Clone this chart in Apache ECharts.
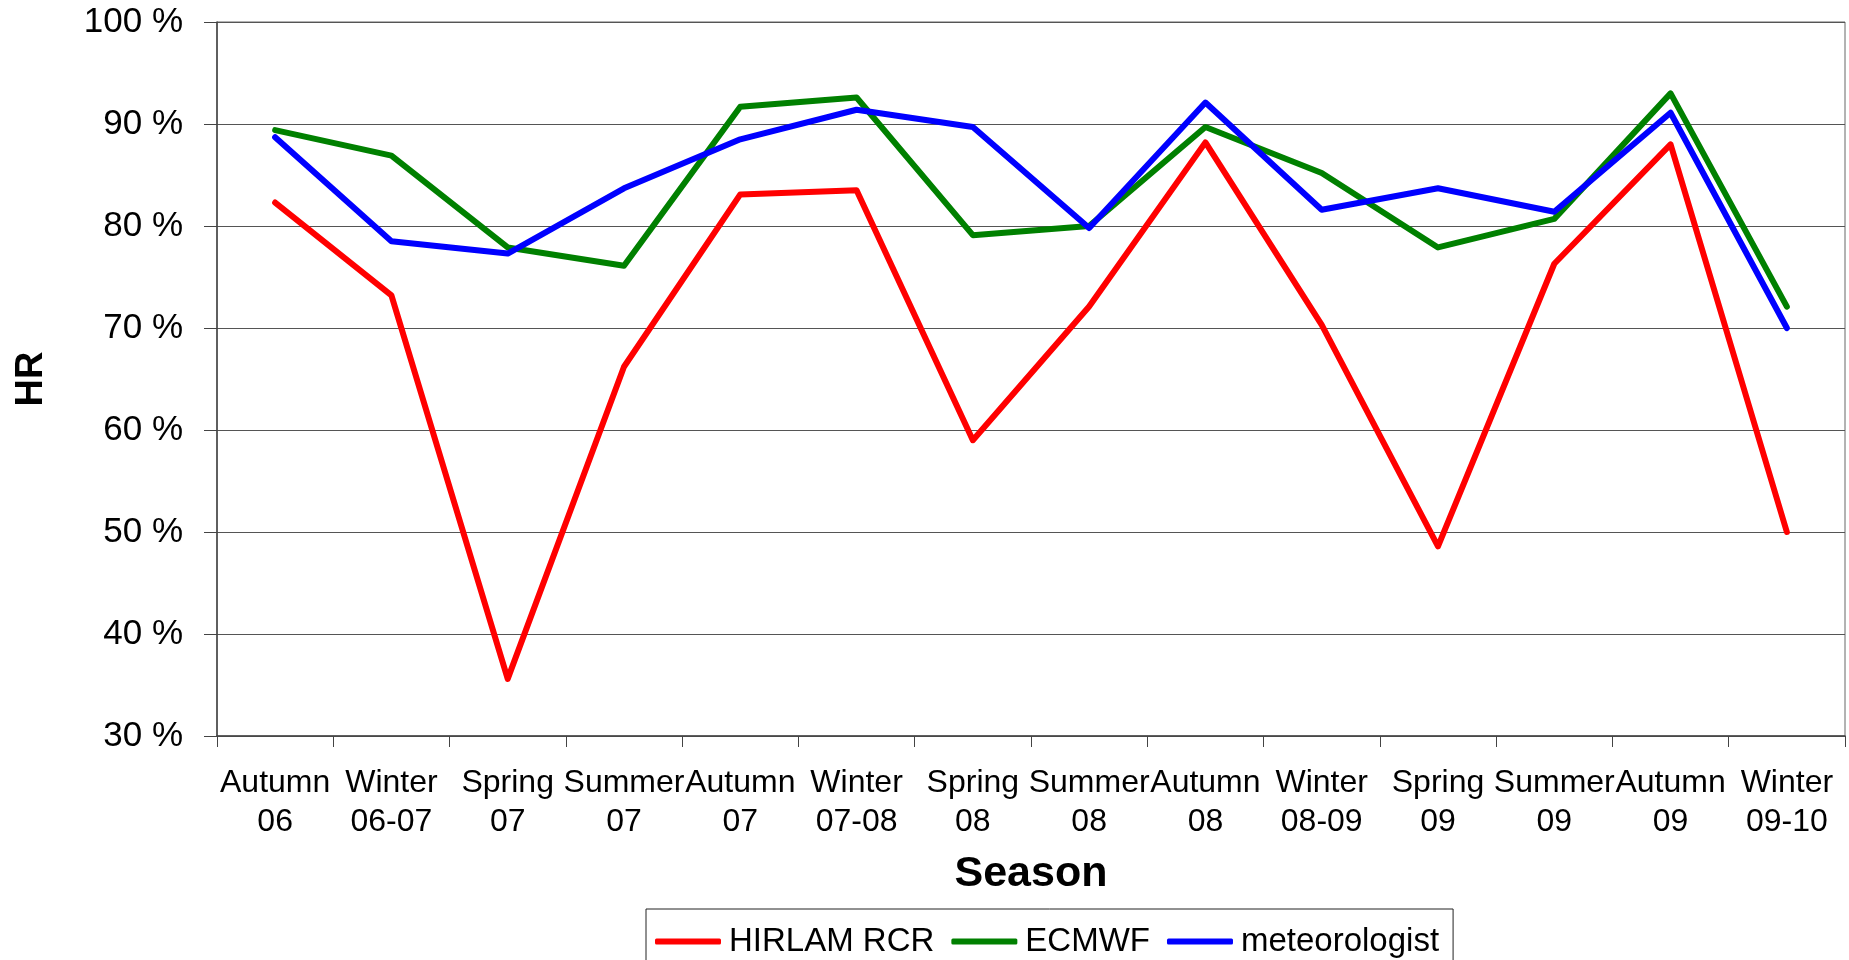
<!DOCTYPE html>
<html>
<head>
<meta charset="utf-8">
<script src="https://cdn.jsdelivr.net/npm/echarts@6/dist/echarts.min.js"></script>
<style>
html,body{margin:0;padding:0;background:#fff;}
#chart{width:1849px;height:960px;}
</style>
</head>
<body>
<div id="chart"></div>
<script>
const categories = ['Autumn\n06','Winter\n06-07','Spring\n07','Summer\n07','Autumn\n07','Winter\n07-08','Spring\n08','Summer\n08','Autumn\n08','Winter\n08-09','Spring\n09','Summer\n09','Autumn\n09','Winter\n09-10'];
const hirlam = [82.3, 73.2, 35.6, 66.2, 83.1, 83.5, 59.0, 72.1, 88.2, 70.3, 48.6, 76.3, 88.0, 50.0];
const ecmwf = [89.4, 86.9, 77.9, 76.1, 91.7, 92.6, 79.1, 80.0, 89.7, 85.2, 77.9, 80.7, 93.0, 72.1];
const meteorologist = [88.7, 78.5, 77.3, 83.7, 88.5, 91.4, 89.7, 79.8, 92.1, 81.6, 83.7, 81.4, 91.1, 70.0];
const seriesNames = ['HIRLAM RCR', 'ECMWF', 'meteorologist'];
const yTicks = {min: 30, max: 100, interval: 10};

const FONT = "'Liberation Sans', Arial, sans-serif";
const chart = echarts.init(document.getElementById('chart'));
const mk = (name, data, color) => ({
  name, type: 'line', data,
  symbol: 'none',
  lineStyle: {color, width: 6, cap: 'round', join: 'round'},
  itemStyle: {color},
  animation: false
});
chart.setOption({
  animation: false,
  textStyle: {fontFamily: FONT},
  grid: {left: 217, right: 4, top: 22, bottom: 224, show: true, borderColor: '#666', borderWidth: 1},
  legend: {
    bottom: -14, left: 646,
    data: seriesNames,
    icon: 'roundRect',
    itemWidth: 66, itemHeight: 6,
    itemGap: 17,
    padding: [16, 14, 16, 9],
    borderColor: '#222', borderWidth: 1,
    textStyle: {fontFamily: FONT, fontSize: 33, color: '#000', padding: [0,0,0,3]}
  },
  xAxis: {
    type: 'category', data: categories, boundaryGap: true,
    name: 'Season', nameLocation: 'middle', nameGap: 117,
    nameTextStyle: {fontFamily: FONT, fontSize: 43, fontWeight: 'bold', color: '#000'},
    axisLine: {lineStyle: {color: '#444', width: 1.5}},
    axisTick: {show: true, length: 11, lineStyle: {color: '#444'}},
    axisLabel: {interval: 0, margin: 28, fontFamily: FONT, fontSize: 32, lineHeight: 39, color: '#000'},
    splitLine: {show: false}
  },
  yAxis: {
    type: 'value', min: yTicks.min, max: yTicks.max, interval: yTicks.interval,
    name: 'HR', nameLocation: 'middle', nameGap: 166, nameRotate: 90,
    nameTextStyle: {fontFamily: FONT, fontSize: 38, fontWeight: 'bold', color: '#000'},
    axisLine: {show: true, lineStyle: {color: '#444', width: 1.5}},
    axisTick: {show: true, length: 13, lineStyle: {color: '#444'}},
    axisLabel: {margin: 34, fontFamily: FONT, fontSize: 35, color: '#000', formatter: '{value} %'},
    splitLine: {show: true, lineStyle: {color: '#555', width: 1}}
  },
  series: [
    mk(seriesNames[0], hirlam, '#ff0000'),
    mk(seriesNames[1], ecmwf, '#008000'),
    mk(seriesNames[2], meteorologist, '#0000ff')
  ]
});
</script>
</body>
</html>
